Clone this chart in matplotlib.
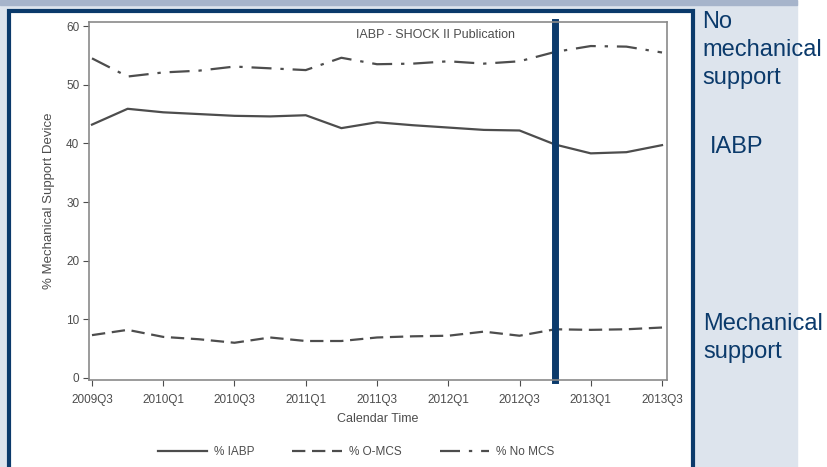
import numpy as np
import matplotlib.pyplot as plt
from matplotlib.patches import Rectangle
from matplotlib.lines import Line2D

# trimestres 2009Q3 .. 2013Q3
quarters = ['2009Q3', '2009Q4', '2010Q1', '2010Q2', '2010Q3', '2010Q4',
            '2011Q1', '2011Q2', '2011Q3', '2011Q4', '2012Q1', '2012Q2',
            '2012Q3', '2012Q4', '2013Q1', '2013Q2', '2013Q3']
pct_iabp = [43.2, 45.9, 45.3, 45.0, 44.7, 44.6, 44.8, 42.6, 43.6, 43.1,
            42.7, 42.3, 42.2, 39.8, 38.3, 38.5, 39.7]
pct_omcs = [7.3, 8.2, 7.0, 6.6, 6.0, 6.9, 6.3, 6.3, 6.9, 7.1,
            7.2, 7.9, 7.2, 8.3, 8.2, 8.3, 8.6]
pct_nomcs = [54.5, 51.4, 52.1, 52.4, 53.1, 52.8, 52.5, 54.6, 53.5, 53.6,
             54.0, 53.6, 54.0, 55.6, 56.6, 56.5, 55.5]
publicacion = '2012Q4'   # IABP-SHOCK II

W, H = 828, 467
navy = '#0b3a6b'
gris = '#4d4d4d'
plt.rcParams['font.family'] = ['Liberation Sans', 'DejaVu Sans']

fig = plt.figure(figsize=(W/100, H/100), dpi=100)

# fondo de la diapositiva (coordenadas en píxeles)
bg = fig.add_axes([0, 0, 1, 1], zorder=0)
bg.set_xlim(0, W); bg.set_ylim(H, 0); bg.axis('off')
bg.add_patch(Rectangle((0, 0), 797, H, color='#dde4ed'))
bg.add_patch(Rectangle((0, 0), 797, 5, color='#a6b4cb'))
bg.add_patch(Rectangle((9, 11), 684, 470, facecolor='white', edgecolor=navy, lw=3))

bg.text(702, 11.5, 'No\nmechanical\nsupport', fontsize=17, color=navy,
        va='top', ha='left', linespacing=1.33)
bg.text(710, 147, 'IABP', fontsize=17, color=navy, va='center', ha='left')
bg.text(703, 313.5, 'Mechanical\nsupport', fontsize=17, color=navy,
        va='top', ha='left', linespacing=1.33)

# gráfico
ax = fig.add_axes([89/W, 1-380/H, (667-89)/W, (380-22)/H], zorder=1)
x = np.arange(len(quarters))
ax.plot(x, pct_iabp, color=gris, lw=1.6, label='% IABP')
ax.plot(x, pct_omcs, color=gris, lw=1.6, dashes=(6, 3), label='% O-MCS')
ax.plot(x, pct_nomcs, color=gris, lw=1.6, dashes=(9, 4, 1.5, 4), label='% No MCS')

xp = quarters.index(publicacion)
ax.axvline(xp, color=navy, lw=5, ymin=0, ymax=1.0, clip_on=False)

ax.set_xlim(-0.084, 16.14)
ax.set_ylim(-0.35, 60.7)
ax.set_xticks(x[::2])
ax.set_xticklabels(quarters[::2])
ax.set_yticks(np.arange(0, 61, 10))
for s in ax.spines.values():
    s.set_color('#8a8a8a')
    s.set_linewidth(1.2)
ax.tick_params(colors=gris, labelsize=8.5, length=4, width=0.8)
ax.tick_params(axis='x', pad=6)
ax.tick_params(axis='y', pad=3)
ax.set_xlabel('Calendar Time', fontsize=9, color=gris, labelpad=5)
ax.set_ylabel('% Mechanical Support Device', fontsize=9.5, color=gris, labelpad=8)
ax.text(0.6, 0.965, 'IABP - SHOCK II Publication', transform=ax.transAxes,
        fontsize=9, color=gris, ha='center', va='center')

handles = [Line2D([], [], color=gris, lw=1.6),
           Line2D([], [], color=gris, lw=1.6, dashes=(6, 3)),
           Line2D([], [], color=gris, lw=1.6, dashes=(9, 4, 1.5, 4))]
fig.legend(handles, ['% IABP', '% O-MCS', '% No MCS'], loc='center',
           bbox_to_anchor=(356/W, 1-452/H), ncol=3, frameon=False,
           fontsize=8.5, labelcolor=gris, handlelength=4.2, handletextpad=0.6,
           columnspacing=3.2)

fig.savefig('out.png', dpi=100)
